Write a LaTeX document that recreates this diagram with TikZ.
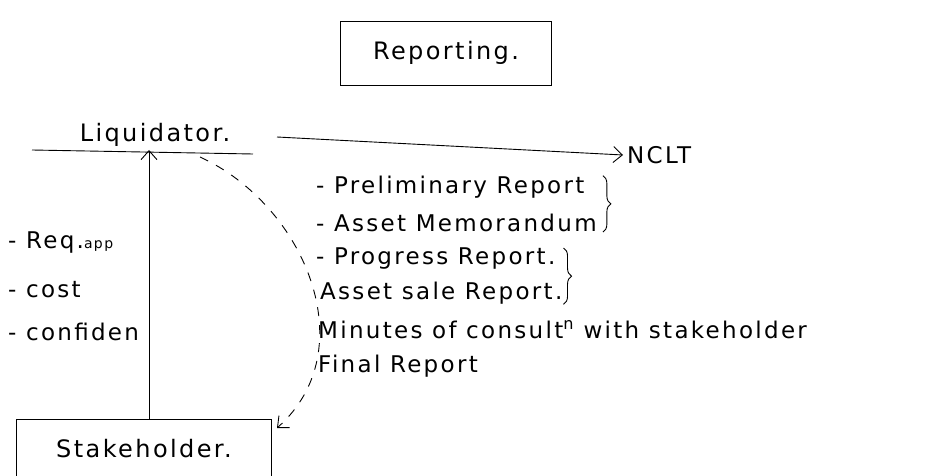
\documentclass[tikz,border=0pt]{standalone}
\usepackage{fontspec}
\setmainfont{DejaVu Sans}[LetterSpace=10]
\usetikzlibrary{arrows.meta,decorations.pathreplacing}
\begin{document}
\begin{tikzpicture}[x=1pt,y=-1pt,
  every node/.style={inner sep=0pt},
  lbl/.style={font=\fontsize{23}{25}\selectfont, anchor=west},
  boxnode/.style={draw, line width=0.9pt, minimum height=58pt, font=\fontsize{24}{26}\selectfont},
  ln/.style={line width=0.9pt},
  tip/.style={-{Straight Barb[length=9pt,width=16pt]}},
  brc/.style={decorate, decoration={brace, amplitude=8pt}, line width=0.9pt}
]
\useasboundingbox (0,0) rectangle (937,476);
% title
\node[boxnode, minimum width=211pt, minimum height=64pt] (rep) at (446,53) {Reporting.};
% liquidator
\node[font=\fontsize{24}{26}\selectfont, anchor=base] (liq) at (155,142) {Liquidator.};
\coordinate (ulL) at (32,150);
\coordinate (ulR) at (253,154);
\draw[ln] (ulL) -- (ulR);
\coordinate (liqtop) at (149,150);
% NCLT
\node[font=\fontsize{23}{25}\selectfont, anchor=west] (nclt) at (627,155) {NCLT};
\coordinate (a0) at (277,137);
\draw[ln, tip] (a0) -- ([xshift=-4pt]nclt.west);
% stakeholder
\node[boxnode, minimum width=255pt, anchor=north west] (stk) at (16,419) {Stakeholder.};
\draw[ln, tip] (stk.north -| liqtop) -- (liqtop);
% left labels
\node[lbl] (l1) at (8,243) {- Req.{\fontsize{14}{15}\selectfont app}};
\node[lbl] (l2) at (8,290) {- cost};
\node[lbl] (l3) at (8,332) {- confiden};
% report list
\node[lbl] (r1) at (316,187) {- Preliminary Report};
\node[lbl] (r2) at (316,223) {- Asset Memorandum};
\node[lbl] (r3) at (316,259) {- Progress Report.};
\node[lbl] (r4) at (320,293) {Asset sale Report.};
\node[lbl] (r5) at (318,330) {Minutes of consult\textsuperscript{n} with stakeholder};
\node[lbl] (r6) at (318,366) {Final Report};
% braces
\draw[brc] ([xshift=6pt]r2.east |- r1.north) -- ([xshift=6pt]r2.south east);
\draw[brc] ([xshift=8pt]r3.east |- r3.north) -- ([xshift=8pt]r3.east |- r4.south);
% dashed curve
\coordinate (d0) at (200,157);
\coordinate (d1) at (277,428);
\draw[ln, dashed, dash pattern=on 9pt off 9pt, tip] (d0) .. controls (305,205) and (365,350) .. (d1);
\end{tikzpicture}
\end{document}
